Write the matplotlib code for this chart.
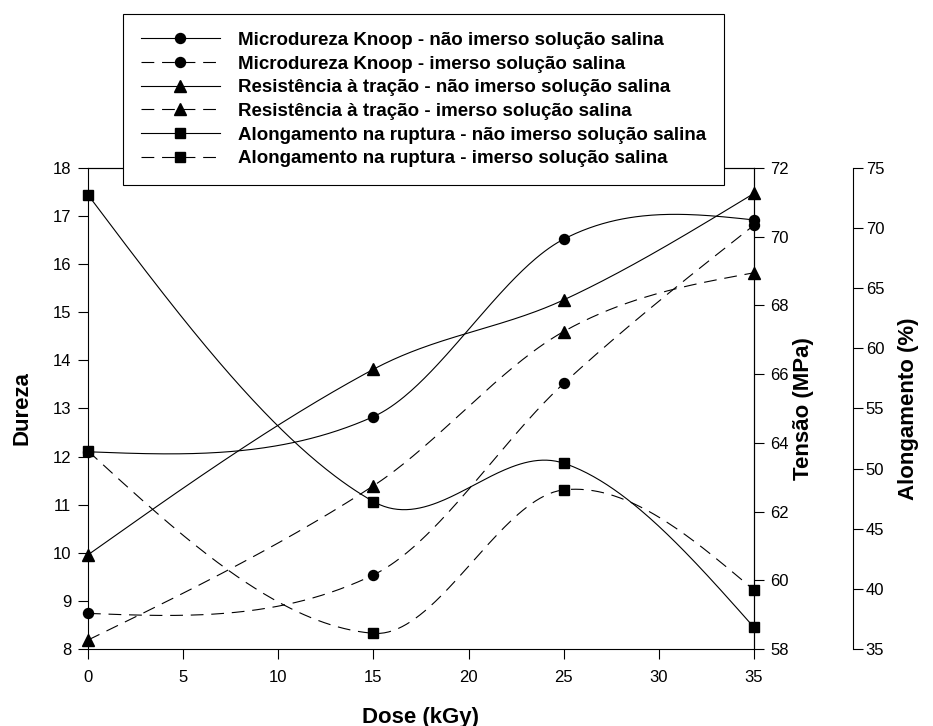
import numpy as np
import matplotlib
matplotlib.use("Agg")
from matplotlib import pyplot as plt

plt.rcParams['font.family'] = ['Liberation Sans', 'DejaVu Sans']

# dose (kGy)
dose = [0, 15, 25, 35]

# Microdureza Knoop (Dureza axis)
knoop_nao = [12.1, 12.83, 16.52, 16.92]
knoop_imerso = [8.74, 9.54, 13.52, 16.81]

# Resistencia a tracao (Tensao axis, MPa)
tracao_nao = [60.74, 66.14, 68.16, 71.26]
tracao_imerso = [58.26, 62.75, 67.24, 68.95]

# Alongamento na ruptura (%)
along_nao = [72.77, 47.26, 50.45, 36.8]
along_imerso = [51.47, 36.3, 48.23, 39.9]

labels = ["Microdureza Knoop - não imerso solução salina",
          "Microdureza Knoop - imerso solução salina",
          "Resistência à tração - não imerso solução salina",
          "Resistência à tração - imerso solução salina",
          "Alongamento na ruptura - não imerso solução salina",
          "Alongamento na ruptura - imerso solução salina"]


#smooth curve through the points (hermite, finite difference slopes, "free" ends) - looks like the sigmaplot spline
def smooth(x, y, n=300):
    x = np.asarray(x, float)
    y = np.asarray(y, float)
    d = np.diff(y) / np.diff(x)
    m = np.zeros(len(x))
    m[1:-1] = (y[2:] - y[:-2]) / (x[2:] - x[:-2])
    m[0] = (3 * d[0] - m[1]) / 2
    m[-1] = (3 * d[-1] - m[-2]) / 2
    xs = np.linspace(x[0], x[-1], n)
    i = np.clip(np.searchsorted(x, xs) - 1, 0, len(x) - 2)
    h = x[i + 1] - x[i]
    t = (xs - x[i]) / h
    h00 = 2 * t**3 - 3 * t**2 + 1
    h10 = t**3 - 2 * t**2 + t
    h01 = -2 * t**3 + 3 * t**2
    h11 = t**3 - t**2
    ys = h00 * y[i] + h10 * h * m[i] + h01 * y[i + 1] + h11 * h * m[i + 1]
    return xs, ys


fig = plt.figure(figsize=(9.33, 7.26), dpi=100)
ax = fig.add_axes([0.0943, 0.1061, 0.7138, 0.6625])
ax2 = ax.twinx()
ax3 = ax.twinx()

lw = 0.8
dash = (11.5, 7)
handles = []

def draw(axis, y, marker, ms, dashed):
    xs, ys = smooth(dose, y)
    ls = '--' if dashed else '-'
    line, = axis.plot(xs, ys, color='black', lw=lw, ls=ls)
    if dashed:
        line.set_dashes(dash)
    axis.plot(dose, y, ls='none', marker=marker, ms=ms, color='black', clip_on=False, zorder=5)
    # proxy for the legend
    h, = axis.plot([], [], color='black', lw=lw, ls=ls, marker=marker, ms=ms)
    if dashed:
        h.set_dashes(dash)
    handles.append(h)

draw(ax, knoop_nao, 'o', 7.2, False)
draw(ax, knoop_imerso, 'o', 7.2, True)
draw(ax2, tracao_nao, '^', 8, False)
draw(ax2, tracao_imerso, '^', 8, True)
draw(ax3, along_nao, 's', 7, False)
draw(ax3, along_imerso, 's', 7, True)

ax.set_xlim(0, 35)
ax.set_xticks(np.arange(0, 40, 5))
ax.set_ylim(8, 18)
ax.set_yticks(np.arange(8, 19, 1))
ax2.set_ylim(58, 72)
ax2.set_yticks(np.arange(58, 73, 2))
ax3.set_ylim(35, 75)
ax3.set_yticks(np.arange(35, 76, 5))

ax3.spines['right'].set_position(('axes', 1.148))
for s in ['top', 'left', 'bottom']:
    ax3.spines[s].set_visible(False)
ax2.spines['left'].set_visible(False)
ax2.spines['bottom'].set_visible(False)

for a in (ax, ax2, ax3):
    a.tick_params(direction='out', length=7, width=0.8, labelsize=12, pad=5, colors='black')
    for s in a.spines.values():
        s.set_linewidth(0.8)
ax.tick_params(axis='x', pad=8.5)
ax3.tick_params(axis='y', pad=2.5)

ax.set_xlabel("Dose (kGy)", fontsize=16, fontweight='bold')
ax.xaxis.set_label_coords(0.5, -0.12)
ax.set_ylabel("Dureza", fontsize=16, fontweight='bold')
ax.yaxis.set_label_coords(-0.084, 0.5)
ax2.set_ylabel("Tensão (MPa)", fontsize=16, fontweight='bold')
ax2.yaxis.set_label_coords(1.0586, 0.5)
ax3.set_ylabel("Alongamento (%)", fontsize=16, fontweight='bold')
ax3.yaxis.set_label_coords(1.216, 0.5)

leg = fig.legend(handles, labels, loc='upper left', bbox_to_anchor=(0.1318, 0.9807),
                 prop={'size': 13.5, 'weight': 'bold'}, frameon=True, fancybox=False,
                 edgecolor='black', framealpha=1, borderpad=0.95, labelspacing=0.35,
                 handlelength=4.2, handletextpad=1.0, numpoints=1, borderaxespad=0)
leg.get_frame().set_linewidth(0.8)
leg.set_zorder(10)

fig.savefig("out.png", dpi=100)
